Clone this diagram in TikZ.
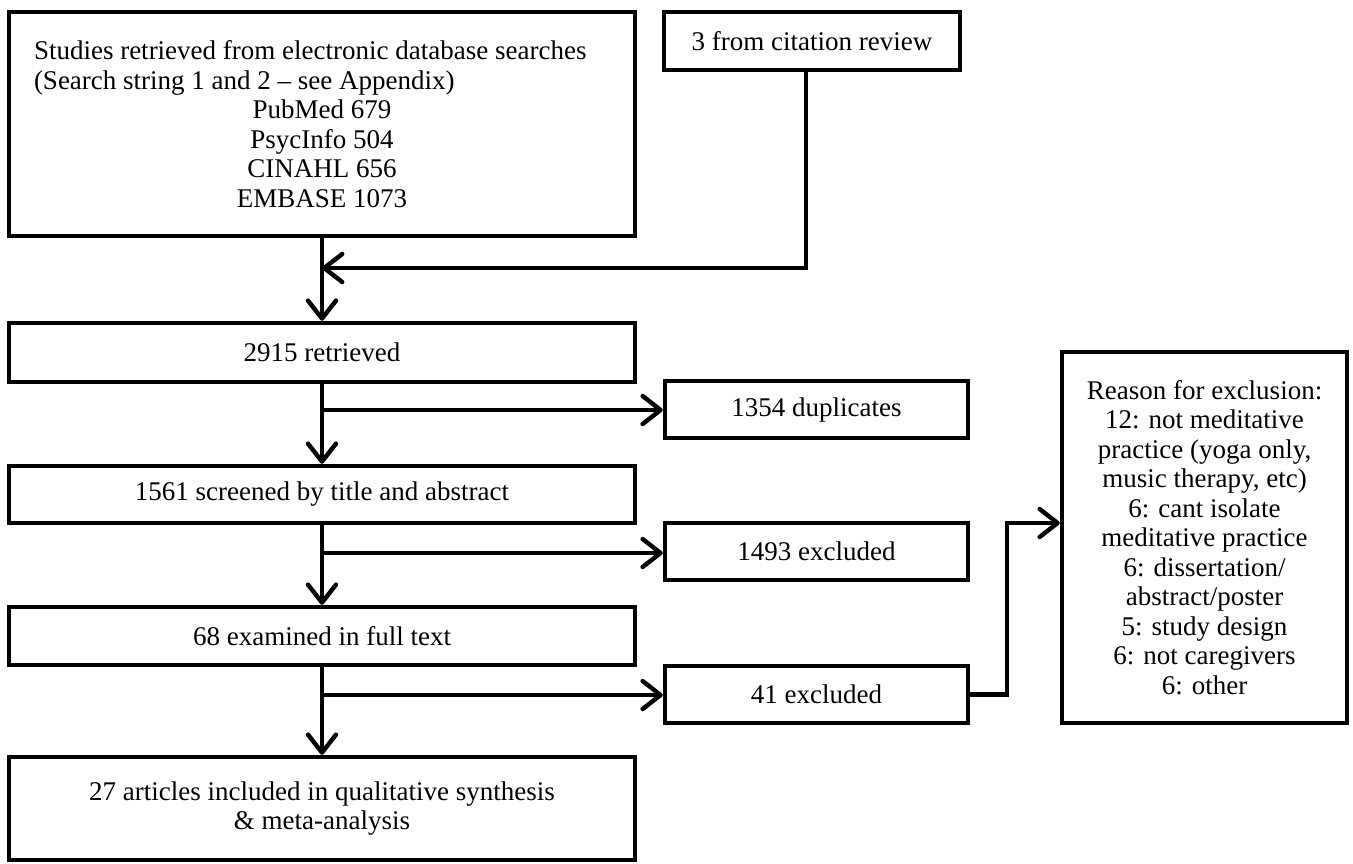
\documentclass[tikz,border=0pt]{standalone}
\usepackage{fontspec}
\setmainfont{Liberation Serif}
\usetikzlibrary{arrows.meta}

\begin{document}
\begin{tikzpicture}[x=0.5pt,y=-0.5pt,>={Straight Barb[length=9pt,width=14pt,round]},
  box/.style={draw, line width=2.2pt, inner sep=0pt, align=center,
    font=\fontsize{13.5}{14.75}\selectfont},
  mainbox/.style={box, minimum width=313pt},
  sidebox/.style={box, minimum width=151.5pt, minimum height=28.5pt},
  link/.style={line width=2.2pt}]
\useasboundingbox (0,0) rectangle (1353,863);

% main column
\node[mainbox, minimum height=112pt] (search) at (322,124)
  {\makebox[288pt][l]{Studies retrieved from electronic database searches}\\
   \makebox[288pt][l]{(Search string 1 and 2 -- see Appendix)}\\
   PubMed 679\\PsycInfo 504\\CINAHL 656\\EMBASE 1073};
\node[box, minimum width=148pt, minimum height=29pt] (citation) at (812,41) {3 from citation review};
\node[mainbox, minimum height=29.5pt] (retrieved) at (322,352.5) {2915 retrieved};
\node[mainbox, minimum height=28.5pt] (screened) at (322,494.5) {1561 screened by title and abstract};
\node[mainbox, minimum height=29pt] (fulltext) at (322,636) {68 examined in full text};
\node[mainbox, minimum height=51.5pt] (included) at (322,808.5)
  {27 articles included in qualitative synthesis\\\& meta-analysis};

% side column
\node[sidebox] (duplicates) at (816.5,409.5) {1354 duplicates};
\node[sidebox] (screenexcl) at (816.5,551.5) {1493 excluded};
\node[sidebox] (fullexcl) at (816.5,694.5) {41 excluded};
\node[box, minimum width=142.5pt, minimum height=185.5pt] (reasons) at (1204.5,537.5)
  {Reason for exclusion:\\12: not meditative\\practice (yoga only,\\music therapy, etc)\\
   6: cant isolate\\meditative practice\\6: dissertation/\\abstract/poster\\
   5: study design\\6: not caregivers\\6: other};

\coordinate (merge) at (322,268);
\coordinate (split1) at (322,410);
\coordinate (split2) at (322,553);
\coordinate (split3) at (322,695);

\draw[link,->] (search) -- (retrieved);
\draw[link,->] ([xshift=-3pt]citation.south) |- (merge);
\draw[link,->] (retrieved) -- (screened);
\draw[link,->] (split1) -- (split1 -| duplicates.west);
\draw[link,->] (screened) -- (fulltext);
\draw[link,->] (split2) -- (split2 -| screenexcl.west);
\draw[link,->] (fulltext) -- (included);
\draw[link,->] (split3) -- (split3 -| fullexcl.west);
\draw[link,->] (fullexcl.east) -- ++(37,0) |- ([yshift=7.25pt]reasons.west);
\end{tikzpicture}
\end{document}
